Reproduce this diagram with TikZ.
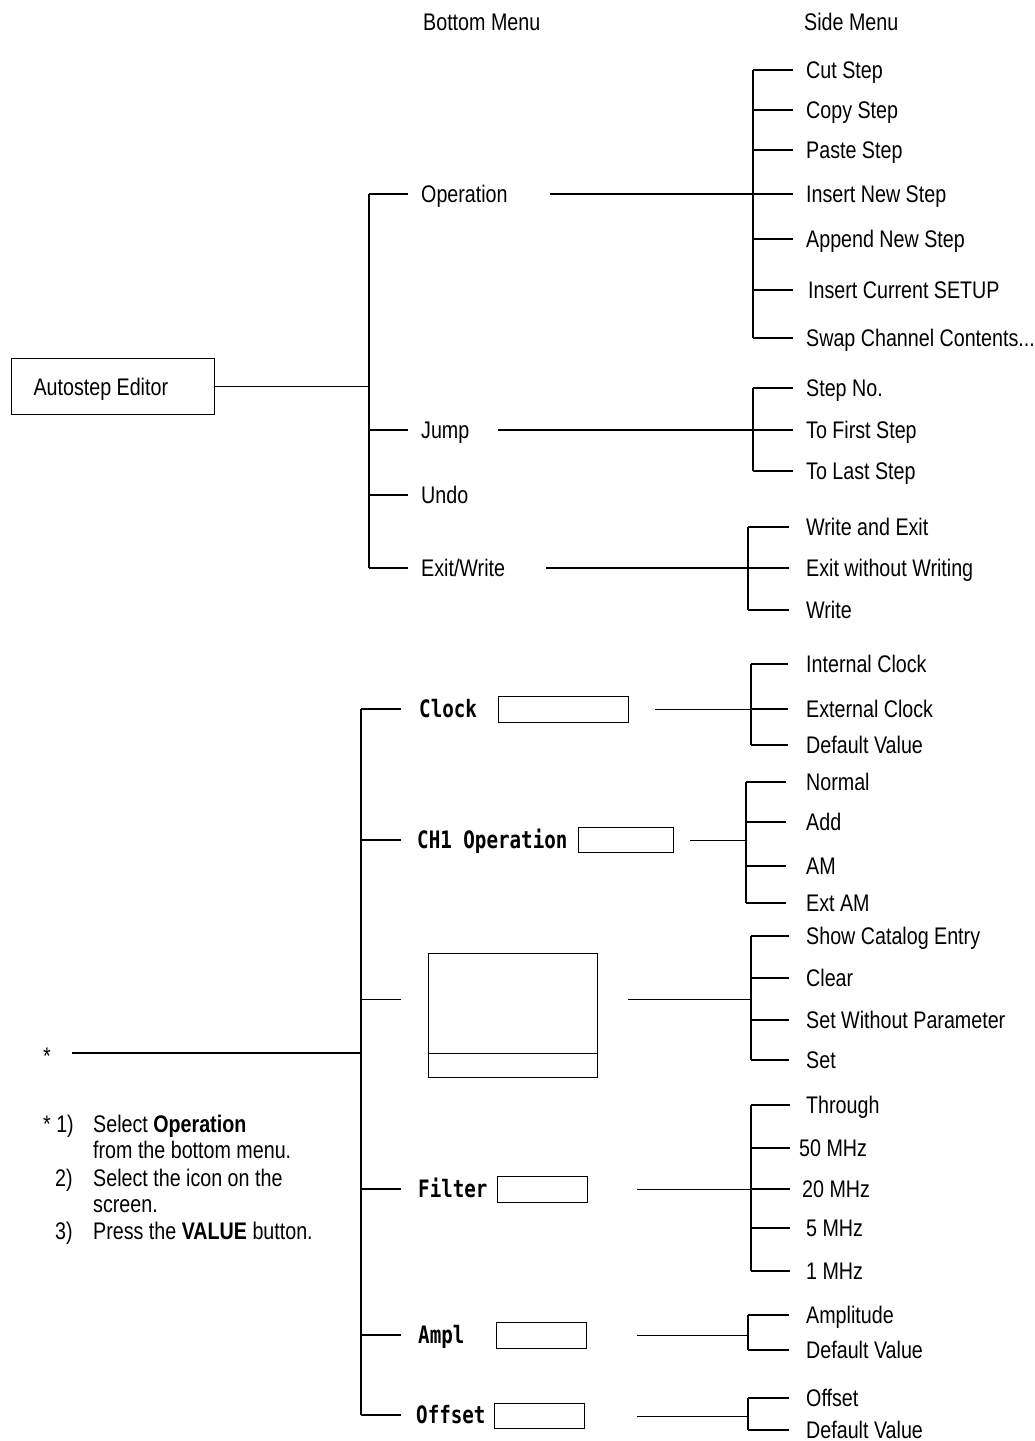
\documentclass[tikz,border=0pt]{standalone}
\usepackage{fontspec}
\setmainfont{Liberation Sans}[FakeStretch=0.82]
\newfontfamily\scrfnt{DejaVu Sans Mono}[FakeStretch=0.8]
\begin{document}
\begin{tikzpicture}[x=1pt,y=-1pt,
  lbl/.style={inner sep=0pt, anchor=west, text height=17.2pt, text depth=0pt, font=\fontsize{24}{28}\selectfont},
  scrlbl/.style={lbl, font=\fontsize{24}{28}\selectfont\scrfnt\bfseries},
  note/.style={inner sep=0pt, anchor=base west, font=\fontsize{24}{28}\selectfont},
  vbox/.style={draw, line width=1.1pt, inner sep=0pt, anchor=north west},
  ln/.style={line width=1.1pt}]
\useasboundingbox (0,0) rectangle (1034,1441);

% headers
\node[lbl] (hb) at (423,22) {Bottom Menu};
\node[lbl] (hs) at (804,22) {Side Menu};

% root box
\node[draw, line width=1.1pt, anchor=north west, minimum width=203pt, minimum height=56pt,
  inner xsep=22pt, inner ysep=0pt, text height=17.2pt, text depth=0pt,
  font=\fontsize{24}{28}\selectfont] (ae) at (11,358) {\makebox[159pt][l]{Autostep Editor}};

% bottom menu (upper)
\node[lbl] (op) at (421,194) {Operation};
\node[lbl] (jp) at (421,430) {Jump};
\node[lbl] (ud) at (421,495) {Undo};
\node[lbl] (ew) at (421,568) {Exit/Write};

% side menus (upper)
\node[lbl] (cut) at (806,70) {Cut Step};
\node[lbl] (copy) at (806,110) {Copy Step};
\node[lbl] (paste) at (806,150) {Paste Step};
\node[lbl] (insnew) at (806,194) {Insert New Step};
\node[lbl] (append) at (806,239) {Append New Step};
\node[lbl] (inscur) at (808,290) {Insert Current SETUP};
\node[lbl] (swap) at (806,338) {Swap Channel Contents...};

\node[lbl] (stepno) at (806,388) {Step No.};
\node[lbl] (tofirst) at (806,430) {To First Step};
\node[lbl] (tolast) at (806,471) {To Last Step};

\node[lbl] (wae) at (806,527) {Write and Exit};
\node[lbl] (ewo) at (806,568) {Exit without Writing};
\node[lbl] (wr) at (806,610) {Write};

% bottom menu (lower, screen items)
\node[scrlbl] (clk) at (419,709) {Clock};
\node[vbox, minimum width=130pt, minimum height=26pt] (clkbox) at (498,696) {};
\node[scrlbl] (chl) at (417,840) {CH1 Operation};
\node[vbox, minimum width=95pt, minimum height=25pt] (chbox) at (578,827) {};
\node[vbox, minimum width=169pt, minimum height=124pt] (iconbox) at (428,953) {};
\node[scrlbl] (flt) at (418,1189) {Filter};
\node[vbox, minimum width=90pt, minimum height=26pt] (fltbox) at (497,1176) {};
\node[scrlbl] (ampl) at (418,1335) {Ampl};
\node[vbox, minimum width=90pt, minimum height=26pt] (amplbox) at (496,1322) {};
\node[scrlbl] (offl) at (416,1415) {Offset};
\node[vbox, minimum width=90pt, minimum height=25pt] (offbox) at (494,1403) {};
\draw[ln] ([yshift=25pt]iconbox.south west) -- ([yshift=25pt]iconbox.south east);

% side menus (lower)
\node[lbl] (intc) at (806,664) {Internal Clock};
\node[lbl] (extc) at (806,709) {External Clock};
\node[lbl] (defc) at (806,745) {Default Value};

\node[lbl] (normal) at (806,782) {Normal};
\node[lbl] (add) at (806,822) {Add};
\node[lbl] (am) at (806,866) {AM};
\node[lbl] (extam) at (806,903) {Ext AM};

\node[lbl] (sce) at (806,936) {Show Catalog Entry};
\node[lbl] (clr) at (806,978) {Clear};
\node[lbl] (swp) at (806,1020) {Set Without Parameter};
\node[lbl] (setx) at (806,1060) {Set};

\node[lbl] (thr) at (806,1105) {Through};
\node[lbl] (m50) at (799,1148) {50 MHz};
\node[lbl] (m20) at (802,1189) {20 MHz};
\node[lbl] (m5) at (806,1228) {5 MHz};
\node[lbl] (m1) at (806,1271) {1 MHz};

\node[lbl] (amp) at (806,1315) {Amplitude};
\node[lbl] (dva) at (806,1350) {Default Value};

\node[lbl] (off) at (806,1398) {Offset};
\node[lbl] (dvo) at (806,1430) {Default Value};

% star and notes
\node[lbl, anchor=center] (star) at (47,1056) {*};
\node[note] (n1) at (43,1132) {* 1)};
\node[note] (n1b) at (93,1132) {Select \textbf{Operation}};
\node[note] (n2) at (93,1158) {from the bottom menu.};
\node[note] (n3) at (55,1186) {2)};
\node[note] (n3b) at (93,1186) {Select the icon on the};
\node[note] (n4) at (93,1212) {screen.};
\node[note] (n5) at (55,1239) {3)};
\node[note] (n5b) at (93,1239) {Press the \textbf{VALUE} button.};

% spine coordinates
\coordinate (sp1) at (369,0); \coordinate (en1) at (408,0);
\coordinate (sp2) at (361,0); \coordinate (en2) at (401,0);
\coordinate (spOp) at (753,0); \coordinate (enOp) at (793,0);
\coordinate (spJp) at (753,0); \coordinate (enJp) at (793,0);
\coordinate (spEw) at (748,0); \coordinate (enEw) at (789,0);
\coordinate (spCk) at (751,0); \coordinate (enCk) at (788,0);
\coordinate (spCh) at (746,0); \coordinate (enCh) at (786,0);
\coordinate (spIc) at (751,0); \coordinate (enIc) at (789,0);
\coordinate (spFl) at (751,0); \coordinate (enFl) at (790,0);
\coordinate (spAm) at (748,0); \coordinate (enAm) at (789,0);
\coordinate (spOf) at (748,0); \coordinate (enOf) at (789,0);

% upper bottom-menu tree
\draw[ln] (ae.east) -- (ae.east -| sp1);
\draw[ln] (op.west -| sp1) -- (ew.west -| sp1);
\foreach \n in {op,jp,ud,ew} \draw[ln] (\n.west -| sp1) -- (\n.west -| en1);

% Operation side menu
\draw[ln] ([xshift=42pt]op.east) -- (op.east -| spOp);
\draw[ln] (cut.west -| spOp) -- (swap.west -| spOp);
\foreach \n in {cut,copy,paste,insnew,append,inscur,swap} \draw[ln] (\n.west -| spOp) -- (\n.west -| enOp);

% Jump side menu
\draw[ln] ([xshift=28pt]jp.east) -- (jp.east -| spJp);
\draw[ln] (stepno.west -| spJp) -- (tolast.west -| spJp);
\foreach \n in {stepno,tofirst,tolast} \draw[ln] (\n.west -| spJp) -- (\n.west -| enJp);

% Exit/Write side menu
\draw[ln] ([xshift=41pt]ew.east) -- (ew.east -| spEw);
\draw[ln] (wae.west -| spEw) -- (wr.west -| spEw);
\foreach \n in {wae,ewo,wr} \draw[ln] (\n.west -| spEw) -- (\n.west -| enEw);

% lower bottom-menu tree
\coordinate (icf) at ([yshift=16pt]iconbox.east);
\coordinate (stl) at (72,1053);
\draw[ln] (clk.west -| sp2) -- (offl.west -| sp2);
\foreach \n in {clk,chl,flt,ampl,offl} \draw[ln] (\n.west -| sp2) -- (\n.west -| en2);
\draw[ln] (icf -| sp2) -- (icf -| en2);
\draw[ln] (stl) -- (stl -| sp2);

% Clock
\draw[ln] ([xshift=26pt]clkbox.east) -- (clkbox.east -| spCk);
\draw[ln] (intc.west -| spCk) -- (defc.west -| spCk);
\foreach \n in {intc,extc,defc} \draw[ln] (\n.west -| spCk) -- (\n.west -| enCk);

% CH1 Operation
\draw[ln] ([xshift=16pt]chbox.east) -- (chbox.east -| spCh);
\draw[ln] (normal.west -| spCh) -- (extam.west -| spCh);
\foreach \n in {normal,add,am,extam} \draw[ln] (\n.west -| spCh) -- (\n.west -| enCh);

% Icon
\draw[ln] ([xshift=30pt]icf) -- (icf -| spIc);
\draw[ln] (sce.west -| spIc) -- (setx.west -| spIc);
\foreach \n in {sce,clr,swp,setx} \draw[ln] (\n.west -| spIc) -- (\n.west -| enIc);

% Filter
\draw[ln] ([xshift=49pt]fltbox.east) -- (fltbox.east -| spFl);
\draw[ln] (thr.west -| spFl) -- (m1.west -| spFl);
\foreach \n in {thr,m50,m20,m5,m1} \draw[ln] (\n.west -| spFl) -- (\n.west -| enFl);

% Ampl
\draw[ln] ([xshift=50pt]amplbox.east) -- (amplbox.east -| spAm);
\draw[ln] (amp.west -| spAm) -- (dva.west -| spAm);
\foreach \n in {amp,dva} \draw[ln] (\n.west -| spAm) -- (\n.west -| enAm);

% Offset
\draw[ln] ([xshift=52pt]offbox.east) -- (offbox.east -| spOf);
\draw[ln] (off.west -| spOf) -- (dvo.west -| spOf);
\foreach \n in {off,dvo} \draw[ln] (\n.west -| spOf) -- (\n.west -| enOf);
\end{tikzpicture}
\end{document}
